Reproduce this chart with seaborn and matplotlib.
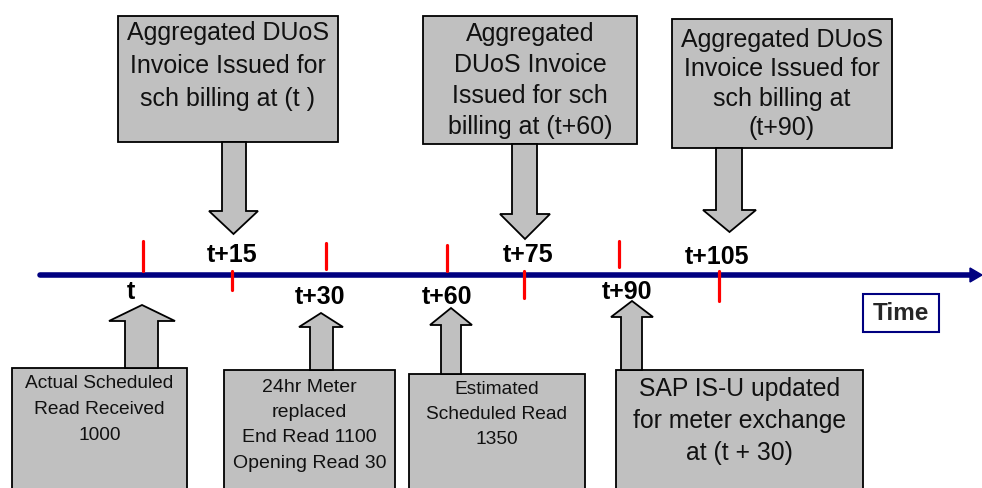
import matplotlib.pyplot as plt
import seaborn as sns
from matplotlib.patches import Polygon, Rectangle

# Timeline labels and events
time_labels = ["t", "t+15", "t+30", "t+60", "t+75", "t+90", "t+105"]
top_texts = [
    ["Aggregated DUoS", "Invoice Issued for", "sch billing at (t )"],
    ["Aggregated", "DUoS Invoice", "Issued for sch", "billing at (t+60)"],
    ["Aggregated DUoS", "Invoice Issued for", "sch billing at", "(t+90)"],
]
bottom_texts = [
    ["Actual Scheduled", "Read Received", "1000"],
    ["24hr Meter", "replaced", "End Read 1100", "Opening Read 30"],
    ["Estimated", "Scheduled Read", "1350"],
    ["SAP IS-U updated", "for meter exchange", "at (t + 30)"],
]

# Layout (pixel space of the 982x489 canvas)
AXIS_Y = 276
tick_x = [143, 232, 326, 447, 524, 619, 719]
tick_y = [(242, 272), (272, 291), (244, 270), (246, 272), (272, 299), (242, 268), (272, 302)]
label_xy = [(131, 292), (232, 255), (320, 297), (447, 297), (528, 255), (627, 292), (717, 257)]

# box: x0, x1, y0, y1 ; arrow: shaft x0, x1, head x0, x1, head base y, tip y
top_boxes = [(118, 338, 17, 143), (423, 637, 17, 145), (672, 892, 20, 149)]
top_arrows = [(222, 246, 209, 258, 212, 235), (512, 537, 500, 550, 215, 240), (716, 742, 703, 756, 211, 233)]
top_lines = [(33, 33), (34, 31), (40, 29.5)]
top_size = 18

bot_boxes = [(12, 187, 369, 495), (224, 395, 371, 495), (409, 585, 375, 495), (616, 863, 371, 495)]
bot_arrows = [(125, 158, 109, 175, 322, 306), (310, 333, 299, 343, 328, 314),
              (441, 461, 430, 472, 326, 309), (621, 642, 611, 653, 318, 302)]
bot_lines = [(383, 26), (387, 25.5), (389, 25.5), (389, 32)]
bot_sizes = [13.8, 14, 13.8, 17.8]

GREY = "#c0c0c0"
NAVY = "#000080"

sns.set_style("white")
plt.rcParams['font.family'] = ['Liberation Sans', 'DejaVu Sans']

fig = plt.figure(figsize=(9.82, 4.89), dpi=100)
ax = fig.add_axes([0, 0, 1, 1])
ax.set_xlim(0, 982)
ax.set_ylim(489, 0)
ax.axis("off")


def block_arrow(sx0, sx1, hx0, hx1, base, tip, start):
    cx = (hx0 + hx1) / 2
    pts = [(sx0, start), (sx1, start), (sx1, base), (hx1, base), (cx, tip),
           (hx0, base), (sx0, base)]
    ax.add_patch(Polygon(pts, closed=True, fc=GREY, ec="black", lw=1.3, zorder=3))


def box(x0, x1, y0, y1, lines, y_first, spacing, size):
    ax.add_patch(Rectangle((x0, y0), x1 - x0, y1 - y0, fc=GREY, ec="black", lw=1.3, zorder=2))
    for i, line in enumerate(lines):
        ax.text((x0 + x1) / 2, y_first + i * spacing, line, ha="center", va="center",
                fontsize=size, color="#111111", zorder=4)


# top boxes + down arrows
for (x0, x1, y0, y1), arr, (yf, sp), lines in zip(top_boxes, top_arrows, top_lines, top_texts):
    box(x0, x1, y0, y1, lines, yf, sp, top_size)
    block_arrow(*arr, start=y1)

# bottom boxes + up arrows
for (x0, x1, y0, y1), arr, (yf, sp), lines, fs in zip(bot_boxes, bot_arrows, bot_lines, bottom_texts, bot_sizes):
    box(x0, x1, y0, y1, lines, yf, sp, fs)
    block_arrow(*arr, start=y0)

# timeline
sns.lineplot(x=[40, 972], y=[AXIS_Y, AXIS_Y], color=NAVY, lw=4, ax=ax, zorder=5)
ax.add_patch(Polygon([(970, AXIS_Y - 7), (982, AXIS_Y), (970, AXIS_Y + 7)], closed=True,
                     fc=NAVY, ec=NAVY, zorder=5))

for x, (ya, yb) in zip(tick_x, tick_y):
    ax.plot([x, x], [ya, yb], color="#ff0000", lw=2.3, zorder=6)

for lab, (x, y) in zip(time_labels, label_xy):
    ax.text(x, y, lab, ha="center", va="center", fontsize=18, fontweight="bold", color="black")

# Time box
ax.add_patch(Rectangle((863, 295), 76, 38, fc="white", ec=NAVY, lw=1.5, zorder=2))
ax.text(901, 314, "Time", ha="center", va="center", fontsize=17.5, fontweight="bold", zorder=3)

fig.savefig("out.png", dpi=100)
